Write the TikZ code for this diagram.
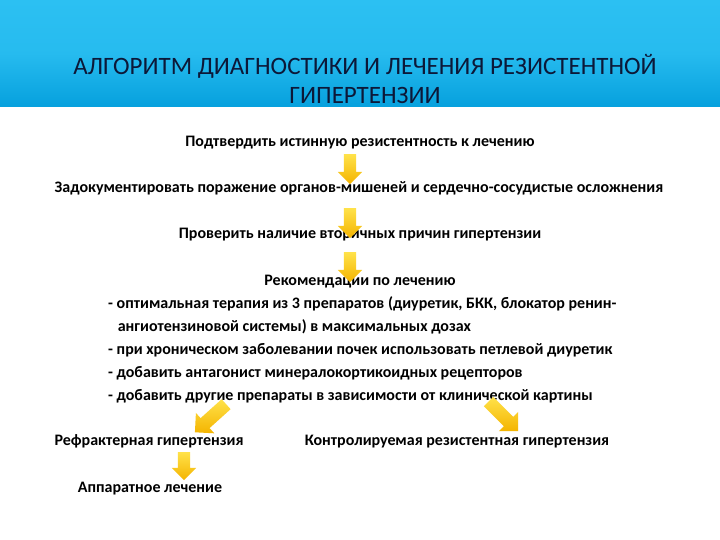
\documentclass[tikz,border=0pt]{standalone}
\usepackage{fontspec}
\setmainfont{Carlito}
\usetikzlibrary{shapes.arrows}
\definecolor{hdrtop}{HTML}{2CC0F2}
\definecolor{hdrbot}{HTML}{06A0DD}
\definecolor{titlec}{HTML}{0C1838}
\definecolor{arrtop}{HTML}{FFE24A}
\definecolor{arrbot}{HTML}{F4B400}
\tikzset{
  body/.style={font=\fontsize{16}{23}\selectfont\bfseries, text=black, inner sep=0pt,
    text height=11pt, text depth=4pt},
  blockarrow/.style={single arrow, draw=none, inner sep=6pt, minimum height=30pt,
    single arrow head extend=6pt, single arrow head indent=0pt,
    top color=arrtop, bottom color=arrbot},
}
\begin{document}
\begin{tikzpicture}[x=1pt,y=-1pt]
\useasboundingbox (0,0) rectangle (720,540);
\fill[white] (0,0) rectangle (720,540);
\shade[top color=hdrtop, bottom color=hdrbot, middle color=hdrtop!85!hdrbot] (0,0) rectangle (720,107);
\node[font=\fontsize{25}{29}\selectfont, text=titlec, align=center, inner sep=0pt] (title) at (365,79)
  {АЛГОРИТМ ДИАГНОСТИКИ И ЛЕЧЕНИЯ РЕЗИСТЕНТНОЙ\\ГИПЕРТЕНЗИИ};

\node[body] (t1) at (360,143) {Подтвердить истинную резистентность к лечению};
\node[body] (t2) at (359,189) {Задокументировать поражение органов-мишеней и сердечно-сосудистые осложнения};
\node[body] (t3) at (360,235) {Проверить наличие вторичных причин гипертензии};
\node[body] (t4) at (360,282) {Рекомендации по лечению};
\node[body, anchor=north west, align=left, text height=, text depth=] (list) at (108,296) {%
- оптимальная терапия из 3 препаратов (диуретик, БКК, блокатор ренин-\\
\hspace*{0.6em}ангиотензиновой системы) в максимальных дозах\\
- при хроническом заболевании почек использовать петлевой диуретик\\
- добавить антагонист минералокортикоидных рецепторов\\
- добавить другие препараты в зависимости от клинической картины};
\node[body] (ref) at (149,442) {Рефрактерная гипертензия};
\node[body] (ctl) at (457,442) {Контролируемая резистентная гипертензия};
\node[body] (app) at (150,489) {Аппаратное лечение};

\node[blockarrow, shape border rotate=270] (a1) at (350,166) {};
\node[blockarrow, shape border rotate=270] (a2) at (350,220) {};
\node[blockarrow, shape border rotate=270] (a3) at (350,264) {};
\node[blockarrow, rotate=-138, minimum height=42pt, inner sep=6.5pt, single arrow head extend=7pt] (a4) at (213,416) {};
\node[blockarrow, rotate=-45, minimum height=42pt, inner sep=6.5pt, single arrow head extend=7pt] (a5) at (501,414) {};
\node[blockarrow, shape border rotate=270, minimum height=28pt] (a6) at (184,463) {};
\end{tikzpicture}
\end{document}
